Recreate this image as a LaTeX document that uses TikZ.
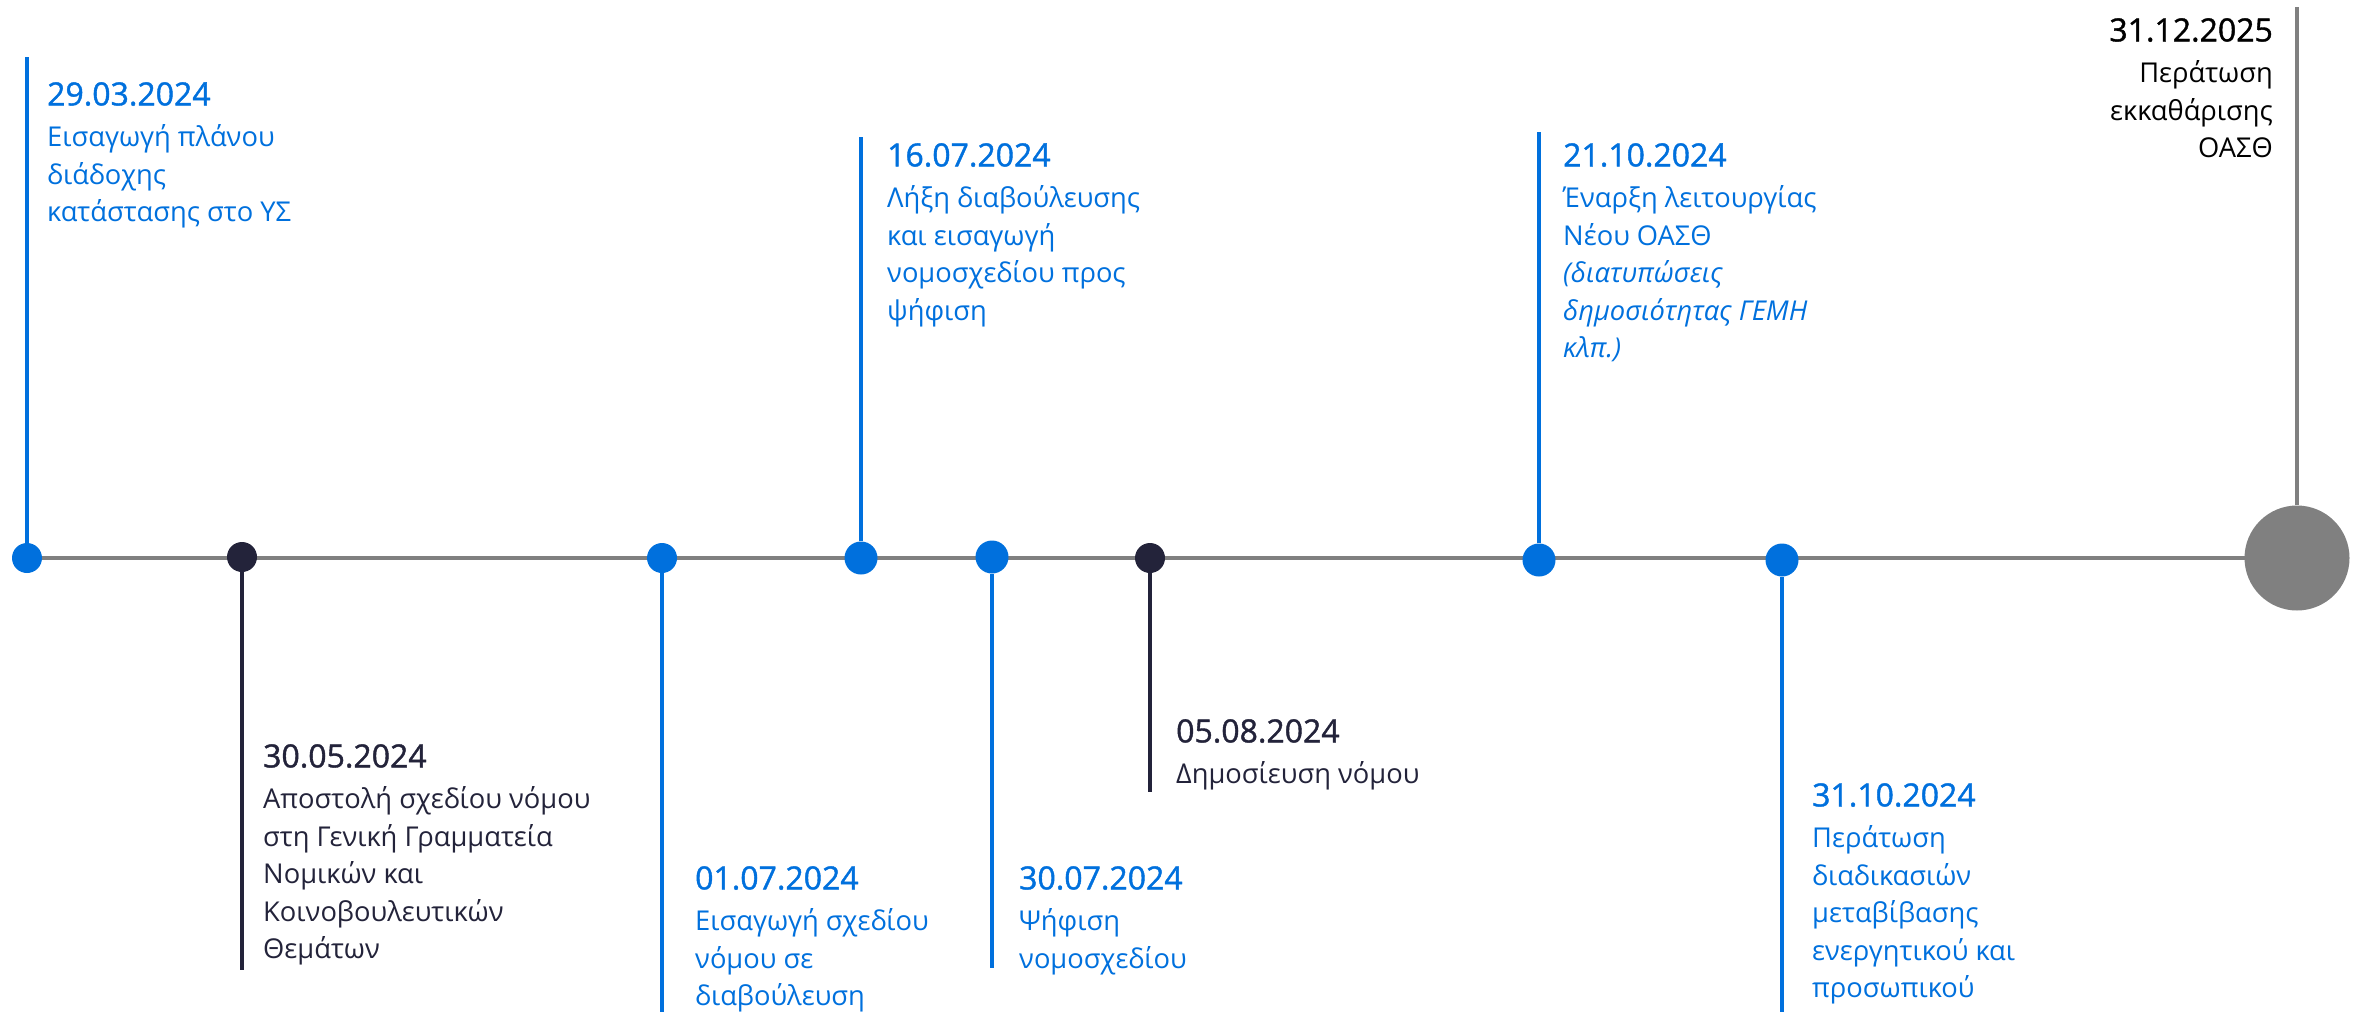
\documentclass[tikz,border=0pt]{standalone}
\usepackage{fontspec}
\setmainfont{Open Sans}
\usetikzlibrary{backgrounds}
\definecolor{tlblue}{RGB}{0,112,221}
\definecolor{tldark}{RGB}{35,35,58}
\definecolor{tlgrey}{RGB}{128,128,128}
\newcommand{\dte}[1]{{\fontsize{32}{38}\selectfont\addfontfeature{FakeBold=1.2}#1}\\[4pt]}

\begin{document}
\begin{tikzpicture}[x=1pt,y=-1pt,dot/.style={circle,inner sep=0pt,minimum size=#1},dot/.default=30pt,stem/.style={line width=3.5pt},event/.style={inner sep=0pt,anchor=north west,align=left,font=\fontsize{27.3}{37.5}\selectfont}]
\useasboundingbox (0,0) rectangle (2356,1012);
% dots on the time line
\node[dot,fill=tlblue] (e1) at (27,558) {};
\node[dot,fill=tldark] (e2) at (242,557) {};
\node[dot,fill=tlblue] (e3) at (662,558) {};
\node[dot=33pt,fill=tlblue] (e4) at (861,558) {};
\node[dot=33pt,fill=tlblue] (e5) at (992,557) {};
\node[dot,fill=tldark] (e6) at (1150,558) {};
\node[dot=33pt,fill=tlblue] (e7) at (1539,560) {};
\node[dot=33pt,fill=tlblue] (e8) at (1782,560) {};
\node[dot=105pt,fill=tlgrey] (e9) at (2297,558) {};
\begin{scope}[on background layer]
\draw[tlgrey,line width=4pt] (e1.center) -- (e9.center);
\end{scope}
% free ends of the stems
\coordinate (t1) at (27,57);
\coordinate (t2) at (242,970);
\coordinate (t3) at (662,1012);
\coordinate (t4) at (861,137);
\coordinate (t5) at (992,968);
\coordinate (t6) at (1150,792);
\coordinate (t7) at (1539,132);
\coordinate (t8) at (1782,1012);
\coordinate (t9) at (2297,7);
\draw[stem,tlblue] (e1) -- (t1);
\draw[stem,tldark] (e2) -- (t2);
\draw[stem,tlblue] (e3) -- (t3);
\draw[stem,tlblue] (e4) -- (t4);
\draw[stem,tlblue] (e5) -- (t5);
\draw[stem,tldark] (e6) -- (t6);
\draw[stem,tlblue] (e7) -- (t7);
\draw[stem,tlblue] (e8) -- (t8);
\draw[stem,tlgrey] (e9) -- (t9);
% labels
\node[event,text=tlblue] (l1) at (47,82) {\dte{29.03.2024}Εισαγωγή πλάνου\\διάδοχης\\κατάστασης στο ΥΣ};
\node[event,text=tldark] (l2) at (263,744) {\dte{30.05.2024}Αποστολή σχεδίου νόμου\\στη Γενική Γραμματεία\\Νομικών και\\Κοινοβουλευτικών\\Θεμάτων};
\node[event,text=tlblue] (l3) at (695,866) {\dte{01.07.2024}Εισαγωγή σχεδίου\\νόμου σε\\διαβούλευση};
\node[event,text=tlblue] (l4) at (887,143) {\dte{16.07.2024}Λήξη διαβούλευσης\\και εισαγωγή\\νομοσχεδίου προς\\ψήφιση};
\node[event,text=tlblue] (l5) at (1019,866) {\dte{30.07.2024}Ψήφιση\\νομοσχεδίου};
\node[event,text=tldark] (l6) at (1176,719) {\dte{05.08.2024}Δημοσίευση νόμου};
\node[event,text=tlblue] (l7) at (1563,143) {\dte{21.10.2024}Έναρξη λειτουργίας\\Νέου ΟΑΣΘ\\\textit{(διατυπώσεις}\\\textit{δημοσιότητας ΓΕΜΗ}\\\textit{κλπ.)}};
\node[event,text=tlblue] (l8) at (1812,783) {\dte{31.10.2024}Περάτωση\\διαδικασιών\\μεταβίβασης\\ενεργητικού και\\προσωπικού};
\node[event,anchor=north east,align=right,text=black] (l9) at (2273,18) {\dte{31.12.2025}Περάτωση\\εκκαθάρισης\\ΟΑΣΘ};
\end{tikzpicture}
\end{document}
